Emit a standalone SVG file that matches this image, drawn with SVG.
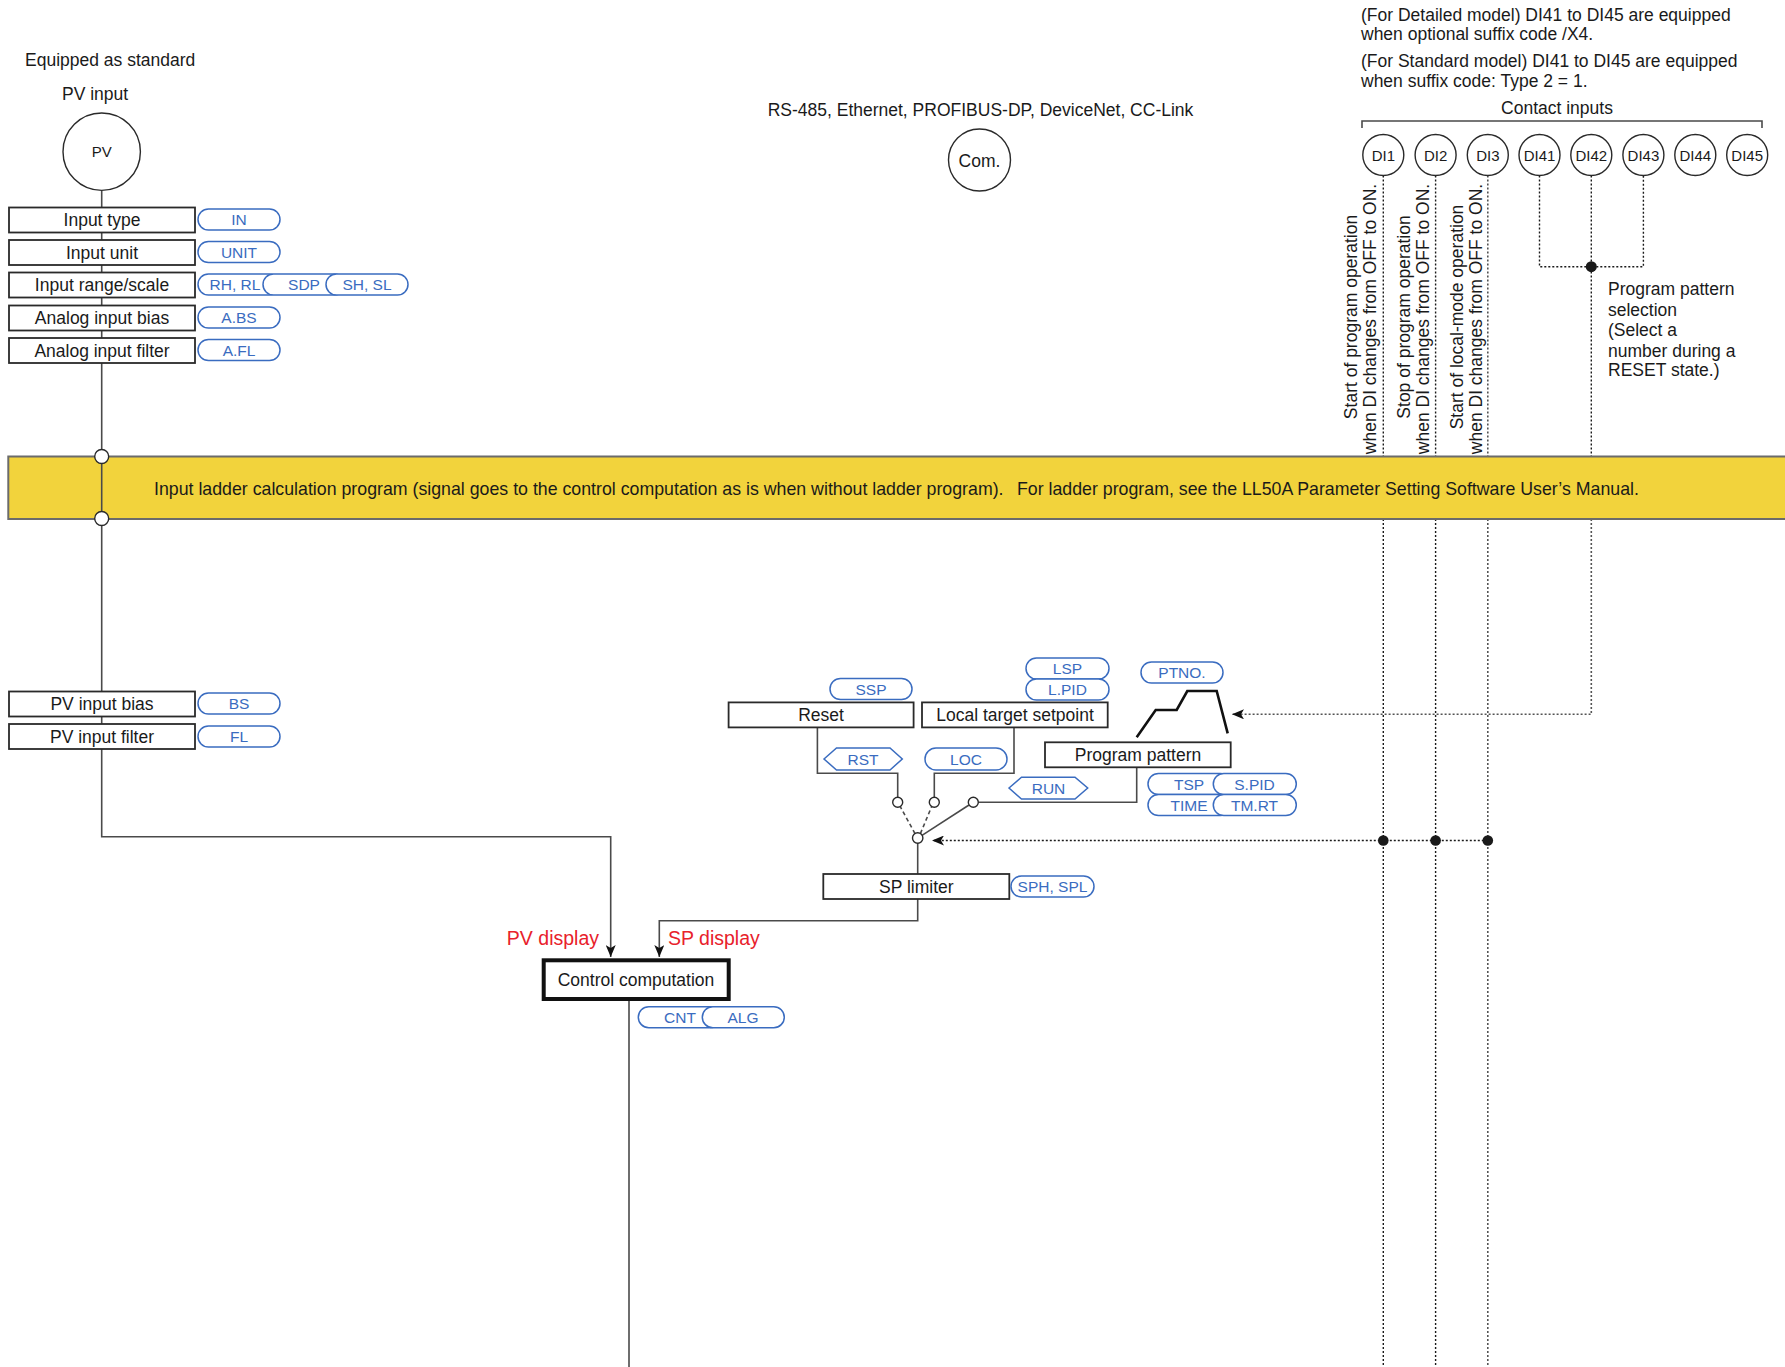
<svg xmlns="http://www.w3.org/2000/svg" width="1785" height="1367" viewBox="0 0 1785 1367">
<style>
text{font-family:"Liberation Sans",Arial,sans-serif;fill:#1a1a1a}
.t{font-size:17.5px}
.bt{font-size:17.75px}
.c{text-anchor:middle}
.box{fill:#fff;stroke:#2a2a2a;stroke-width:1.8}
.pill{fill:#fff;stroke:#3a6cc0;stroke-width:1.5}
.pt{font-size:15.5px;fill:#3a6cc0;text-anchor:middle}
.ln{fill:none;stroke:#4a4a4a;stroke-width:1.6}
.dt{fill:none;stroke:#1a1a1a;stroke-width:1.4;stroke-dasharray:2 2}
.dg{fill:none;stroke:#555;stroke-width:1.6;stroke-dasharray:2 2}
.sc{fill:#fff;stroke:#2a2a2a;stroke-width:1.4}
.red{font-size:19.5px;fill:#e8212b}
.dic{fill:#fff;stroke:#2a2a2a;stroke-width:1.4}
.dil{font-size:15px;text-anchor:middle}
</style>
<defs>
<marker id="ah" viewBox="0 0 12 10" refX="12" refY="5" markerWidth="12" markerHeight="10" markerUnits="userSpaceOnUse" orient="auto">
<path d="M0,0 L12,5 L0,10 L3,5 z" fill="#111"/>
</marker>
</defs>

<!-- background texts -->
<text class="t" x="25" y="66">Equipped as standard</text>
<text class="t" x="62" y="100">PV input</text>
<text class="t c" x="980.5" y="116">RS-485, Ethernet, PROFIBUS-DP, DeviceNet, CC-Link</text>
<text class="t" x="1361" y="21">(For Detailed model) DI41 to DI45 are equipped</text>
<text class="t" x="1361" y="39.5">when optional suffix code /X4.</text>
<text class="t" x="1361" y="66.5">(For Standard model) DI41 to DI45 are equipped</text>
<text class="t" x="1361" y="86.5">when suffix code: Type 2 = 1.</text>
<text class="t c" x="1557" y="114">Contact inputs</text>
<path class="ln" d="M1362 128 V121 H1762 V128" stroke="#2a2a2a"/>

<!-- connectors -->
<g id="connectors">
<path class="ln" d="M101.7 190.5 V456.5"/>
<path class="ln" d="M101.7 518.5 V836.7 H610.7 V957" marker-end="url(#ah)"/>
<path class="ln" d="M817.4 727.4 V773.3 H897.7 V797.3"/>
<path class="ln" d="M1014 727.4 V773.3 H934.3 V797.3"/>
<path class="ln" d="M1136.7 767.3 V802.3 H978.3"/>
<path class="ln" d="M915 833.6 L900.3 806.7" stroke-dasharray="4 3"/>
<path class="ln" d="M920.4 833.6 L931.6 806.7" stroke-dasharray="4 3"/>
<path class="ln" d="M922 835.3 L969 805"/>
<path class="ln" d="M917.7 843 V874"/>
<path class="ln" d="M917.7 899 V920.7 H659.3 V957" marker-end="url(#ah)"/>
<path class="ln" d="M629 1001 V1367"/>
<!-- DI dotted lines -->
<path class="dt" d="M1383.3 175.5 V456.5 M1383.3 519 V1367"/>
<path class="dt" d="M1435.6 175.5 V456.5 M1435.6 519 V1367"/>
<path class="dg" d="M1487.8 175.5 V456.5 M1487.8 519 V1367"/>
<path class="dt" d="M1539.5 175.5 V266.7 H1643.4 V175.5"/>
<path class="dt" d="M1591.3 175.5 V456.5"/>
<path class="dg" d="M1591.3 519 V714.3 H1232" marker-end="url(#ah)"/>
<path class="dt" d="M1487.8 840.5 H932" marker-end="url(#ah)"/>
<circle cx="1591.3" cy="266.7" r="5.5" fill="#1a1a1a"/>
<circle cx="1383.3" cy="840.5" r="5.3" fill="#1a1a1a"/>
<circle cx="1435.6" cy="840.5" r="5.3" fill="#1a1a1a"/>
<circle cx="1487.8" cy="840.5" r="5.3" fill="#1a1a1a"/>
</g>

<!-- PV input -->
<g id="pv">
<circle cx="101.7" cy="151.7" r="38.7" class="dic"/>
<text class="dil" x="101.7" y="157">PV</text>
</g>

<g id="input-type">
<rect class="box" x="9" y="207.5" width="186" height="25"/>
<text class="t c" x="102" y="226">Input type</text>
<rect class="pill" x="198" y="209" width="82" height="21" rx="10.5"/>
<text class="pt" x="239" y="225">IN</text>
</g>
<g id="input-unit">
<rect class="box" x="9" y="240" width="186" height="25"/>
<text class="t c" x="102" y="258.5">Input unit</text>
<rect class="pill" x="198" y="241.5" width="82" height="21" rx="10.5"/>
<text class="pt" x="239" y="257.5">UNIT</text>
</g>
<g id="input-range">
<rect class="box" x="9" y="272.5" width="186" height="25"/>
<text class="t c" x="102" y="291">Input range/scale</text>
<rect class="pill" x="198" y="274" width="82" height="21" rx="10.5"/>
<text class="pt" x="235" y="290">RH, RL</text>
<rect class="pill" x="263" y="274" width="82" height="21" rx="10.5"/>
<text class="pt" x="304" y="290">SDP</text>
<rect class="pill" x="326" y="274" width="82" height="21" rx="10.5"/>
<text class="pt" x="367" y="290">SH, SL</text>
</g>
<g id="analog-bias">
<rect class="box" x="9" y="305.5" width="186" height="25"/>
<text class="t c" x="102" y="324">Analog input bias</text>
<rect class="pill" x="198" y="307" width="82" height="21" rx="10.5"/>
<text class="pt" x="239" y="323">A.BS</text>
</g>
<g id="analog-filter">
<rect class="box" x="9" y="338" width="186" height="25"/>
<text class="t c" x="102" y="356.5">Analog input filter</text>
<rect class="pill" x="198" y="339.5" width="82" height="21" rx="10.5"/>
<text class="pt" x="239" y="355.5">A.FL</text>
</g>

<!-- ladder band -->
<g id="ladder">
<rect x="8.3" y="456.5" width="1800" height="62.5" fill="#f2d33c" stroke="#6b6b6b" stroke-width="2"/>
<path class="ln" d="M101.7 456.5 V518.5"/>
<circle cx="101.7" cy="456.5" r="7" class="sc"/>
<circle cx="101.7" cy="518.5" r="7" class="sc"/>
<text class="bt" x="154" y="495">Input ladder calculation program (signal goes to the control computation as is when without ladder program).</text>
<text class="bt" x="1017" y="495">For ladder program, see the LL50A Parameter Setting Software User’s Manual.</text>
</g>

<g id="pv-bias">
<rect class="box" x="9" y="691.5" width="186" height="25"/>
<text class="t c" x="102" y="710">PV input bias</text>
<rect class="pill" x="198" y="693" width="82" height="21" rx="10.5"/>
<text class="pt" x="239" y="709">BS</text>
</g>
<g id="pv-filter">
<rect class="box" x="9" y="724" width="186" height="25"/>
<text class="t c" x="102" y="742.5">PV input filter</text>
<rect class="pill" x="198" y="726" width="82" height="21" rx="10.5"/>
<text class="pt" x="239" y="742">FL</text>
</g>

<!-- Com -->
<g id="com">
<circle cx="979.5" cy="160" r="31" class="dic"/>
<text class="t c" x="979.5" y="166.5">Com.</text>
</g>

<!-- DI circles -->
<g id="di1"><circle cx="1383.3" cy="155" r="20.5" class="dic"/><text class="dil" x="1383.3" y="160.5">DI1</text></g>
<g id="di2"><circle cx="1435.6" cy="155" r="20.5" class="dic"/><text class="dil" x="1435.6" y="160.5">DI2</text></g>
<g id="di3"><circle cx="1487.8" cy="155" r="20.5" class="dic"/><text class="dil" x="1487.8" y="160.5">DI3</text></g>
<g id="di41"><circle cx="1539.5" cy="155" r="20.5" class="dic"/><text class="dil" x="1539.5" y="160.5">DI41</text></g>
<g id="di42"><circle cx="1591.3" cy="155" r="20.5" class="dic"/><text class="dil" x="1591.3" y="160.5">DI42</text></g>
<g id="di43"><circle cx="1643.4" cy="155" r="20.5" class="dic"/><text class="dil" x="1643.4" y="160.5">DI43</text></g>
<g id="di44"><circle cx="1695.3" cy="155" r="20.5" class="dic"/><text class="dil" x="1695.3" y="160.5">DI44</text></g>
<g id="di45"><circle cx="1747.2" cy="155" r="20.5" class="dic"/><text class="dil" x="1747.2" y="160.5">DI45</text></g>

<!-- rotated DI labels -->
<g id="di-labels">
<text class="t c" transform="translate(1357 317) rotate(-90)">Start of program operation</text>
<text class="t c" transform="translate(1376 319) rotate(-90)">when DI changes from OFF to ON.</text>
<text class="t c" transform="translate(1410 317) rotate(-90)">Stop of program operation</text>
<text class="t c" transform="translate(1429 319) rotate(-90)">when DI changes from OFF to ON.</text>
<text class="t c" transform="translate(1463 317) rotate(-90)">Start of local-mode operation</text>
<text class="t c" transform="translate(1482 319) rotate(-90)">when DI changes from OFF to ON.</text>
<text class="t" x="1608" y="295">Program pattern</text>
<text class="t" x="1608" y="315.5">selection</text>
<text class="t" x="1608" y="336">(Select a</text>
<text class="t" x="1608" y="356.5">number during a</text>
<text class="t" x="1608" y="376">RESET state.)</text>
</g>

<!-- Reset -->
<g id="reset">
<rect class="pill" x="830" y="678.5" width="82" height="21" rx="10.5"/>
<text class="pt" x="871" y="694.5">SSP</text>
<rect class="box" x="728.6" y="702.4" width="185" height="25"/>
<text class="t c" x="821" y="721">Reset</text>
</g>
<g id="local">
<rect class="pill" x="1026" y="658" width="83" height="21" rx="10.5"/>
<text class="pt" x="1067.5" y="674">LSP</text>
<rect class="pill" x="1026" y="679" width="83" height="21" rx="10.5"/>
<text class="pt" x="1067.5" y="695">L.PID</text>
<rect class="box" x="922" y="702.4" width="185.7" height="25"/>
<text class="t c" x="1015" y="721">Local target setpoint</text>
</g>
<g id="program">
<rect class="pill" x="1141" y="662" width="82" height="21" rx="10.5"/>
<text class="pt" x="1182" y="678">PTNO.</text>
<polyline points="1136.7,737.3 1155.7,710 1176.7,710 1187.3,691 1216.7,691 1227.7,733.3" fill="none" stroke="#111" stroke-width="2.6"/>
<rect class="box" x="1045" y="742.3" width="185.7" height="25"/>
<text class="t c" x="1138" y="761">Program pattern</text>
<rect class="pill" x="1148" y="773.5" width="83" height="21" rx="10.5"/>
<text class="pt" x="1189" y="789.5">TSP</text>
<rect class="pill" x="1213.3" y="773.5" width="83" height="21" rx="10.5"/>
<text class="pt" x="1254.5" y="789.5">S.PID</text>
<rect class="pill" x="1148" y="794.5" width="83" height="21" rx="10.5"/>
<text class="pt" x="1189" y="810.5">TIME</text>
<rect class="pill" x="1213.3" y="794.5" width="83" height="21" rx="10.5"/>
<text class="pt" x="1254.5" y="810.5">TM.RT</text>
</g>

<!-- switch -->
<g id="switch">
<polygon class="pill" points="824,759 836.5,748 890,748 902.3,759 890,770 836.5,770"/>
<text class="pt" x="863" y="764.5">RST</text>
<rect class="pill" x="925" y="748" width="82" height="22" rx="11"/>
<text class="pt" x="966" y="764.5">LOC</text>
<polygon class="pill" points="1009,788 1021.5,777.3 1075,777.3 1087.7,788 1075,799 1021.5,799"/>
<text class="pt" x="1048.5" y="793.5">RUN</text>
<circle cx="897.7" cy="802.3" r="5" class="sc"/>
<circle cx="934.3" cy="802.3" r="5" class="sc"/>
<circle cx="973.3" cy="802.3" r="5" class="sc"/>
<circle cx="917.7" cy="838" r="5.2" class="sc"/>
</g>

<g id="sp-limiter">
<rect class="box" x="823.3" y="874" width="186" height="25"/>
<text class="t c" x="916.3" y="892.5">SP limiter</text>
<rect class="pill" x="1011" y="876" width="83" height="21" rx="10.5"/>
<text class="pt" x="1052.5" y="892">SPH, SPL</text>
</g>

<g id="control">
<text class="red" x="599" y="945" text-anchor="end">PV display</text>
<text class="red" x="668" y="945">SP display</text>
<rect x="543.7" y="960.3" width="185" height="38.7" fill="#fff" stroke="#111" stroke-width="4"/>
<text class="t c" x="636" y="986">Control computation</text>
<rect class="pill" x="638.3" y="1006.7" width="82.6" height="21" rx="10.5"/>
<text class="pt" x="680" y="1022.7">CNT</text>
<rect class="pill" x="702.3" y="1006.7" width="82" height="21" rx="10.5"/>
<text class="pt" x="743" y="1022.7">ALG</text>
</g>
</svg>
